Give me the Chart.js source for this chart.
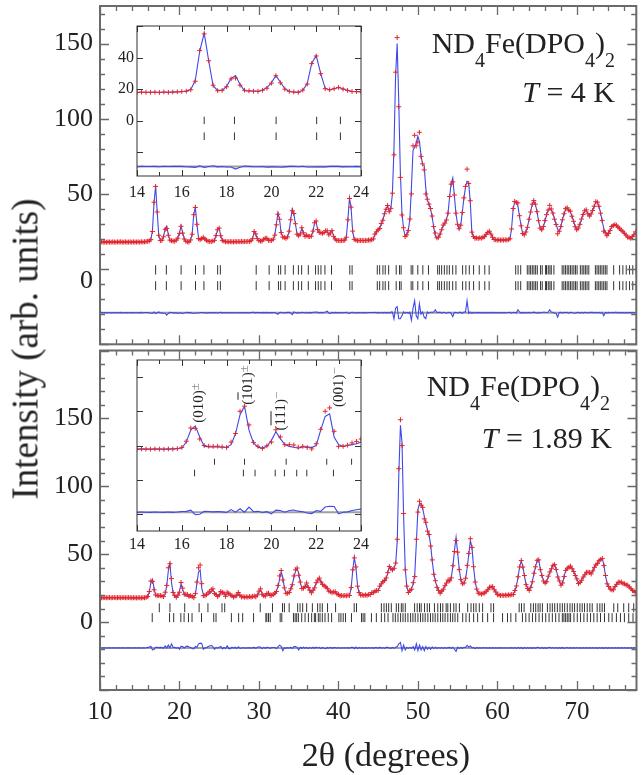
<!DOCTYPE html>
<html>
<head>
<meta charset="utf-8">
<script src="https://cdn.jsdelivr.net/npm/chart.js@4.4.1/dist/chart.umd.min.js"></script>
<style>
  body { margin: 0; background: #fff; }
  #wrap { position: relative; width: 642px; height: 775px; overflow: hidden;
          font-family: "Liberation Serif", "Times New Roman", serif; color: #222; }
  canvas { position: absolute; }
  .lbl { position: absolute; white-space: nowrap; }
  .sb { font-size: 20px; vertical-align: -14px; line-height: 0; }
  .rot { position: absolute; white-space: nowrap; font-size: 15px; line-height: 15px;
         transform: translate(-50%, -50%) rotate(-90deg); }
  .ob { text-decoration: overline; }
  .mk { color: #888; font-size: 13px; vertical-align: 4px; }
</style>
</head>
<body>
<div id="wrap">
  <canvas id="cTop" width="642" height="350" style="left:0;top:0"></canvas>
  <canvas id="cBot" width="642" height="430" style="left:0;top:345px"></canvas>
  <canvas id="cIn1" width="270" height="190" style="left:100px;top:20px"></canvas>
  <canvas id="cIn2" width="270" height="200" style="left:100px;top:354px"></canvas>

  <div class="lbl" style="left:25px;top:349px;font-size:37px;line-height:37px;transform:translate(-50%,-50%) rotate(-90deg)">Intensity (arb. units)</div>
  <div class="lbl" style="left:386px;top:755px;font-size:34px;line-height:34px;transform:translate(-50%,-50%)">2θ (degrees)</div>

  <div class="lbl" style="right:27px;top:28px;font-size:30px;line-height:30px">ND<span class="sb">4</span>Fe(DPO<span class="sb">4</span>)<span class="sb">2</span></div>
  <div class="lbl" style="right:27px;top:77px;font-size:30px;line-height:30px"><i>T</i> = 4 K</div>
  <div class="lbl" style="right:32px;top:371px;font-size:30px;line-height:30px">ND<span class="sb">4</span>Fe(DPO<span class="sb">4</span>)<span class="sb">2</span></div>
  <div class="lbl" style="right:30px;top:423px;font-size:30px;line-height:30px"><i>T</i> = 1.89 K</div>

  <div class="rot" style="left:196px;top:403px">(010)<span class="mk">±</span></div>
  <div class="rot" style="left:245px;top:385px">(<span class="ob">1</span>01)<span class="mk">±</span></div>
  <div class="rot" style="left:278px;top:411px">(<span class="ob">1</span><span class="ob">1</span>1)<span class="mk">−</span></div>
  <div class="rot" style="left:336px;top:387px">(001)<span class="mk">−</span></div>
</div>

<script>
// 2θ grid of the scan: 10.0 ... 77.4 deg, step 0.2
const thetaStart = 10;
const thetaStep = 0.2;

// T = 4 K, observed and calculated intensities (one row = 2 deg)
const topObs = [
  17.8,18.1,17.9,18,17.9,18.1,18,17.9,18.1,18,
  17.9,18.1,18,18.2,17.9,18,18.1,17.9,18,18.1,
  17.9,18.1,18,18,18.1,17.9,18.2,18,18.2,18.3,
  18.5,18.7,19.6,25,44.5,55,38,22.5,19,19.2,
  21.5,26.5,27,22.5,19.3,18.9,18.7,18.6,19.3,20.6,
  23.8,28.5,24,20,18.6,18.2,18,19.4,23.2,36.2,
  41,29.8,20.3,19.6,20.3,21.1,20,19.2,18.5,18.5,
  18.3,18.7,19.1,22.3,26.2,27.3,22.2,19.1,18.6,18.2,
  18.3,18.1,18.3,18.2,18.1,18.3,18.2,18.3,18.2,18.4,
  18.2,18.4,18.3,18.5,18.4,18.9,20.2,25,23.4,20.3,
  18.9,18.7,18.7,19.8,20.5,20.5,19.2,19.1,19.1,19.9,
  22.6,29.5,36.5,33.2,24.3,21.3,21.1,20.5,21.4,25.2,
  32.8,38.8,37,30.2,23.2,22.2,23.3,27.5,24.2,21.8,
  22.6,21.8,21.7,21.9,25.3,30.8,32,26.3,24.4,24.2,
  23.8,24.3,25.5,25.5,22.8,24,25.6,21.8,20,19.1,
  19.1,18.9,19.1,19,19.3,21.2,32.8,47,41.2,25.3,
  19.8,19.4,18.9,19.1,19,19.1,18.9,19.1,19,19.3,
  19.3,19.6,20.1,23.3,24.8,26.2,27,30.3,32.5,36.8,
  39.8,42.3,38.2,40.4,50.5,76,131,154,108,61,
  36,27.5,21.7,22.8,25.6,33.3,50,82,89,82,
  84.5,91,75,70,66,50,46.5,43.2,40.3,35.3,
  28.3,24,20.8,21.2,23.4,26.2,29.3,30.6,32.7,37.2,
  48.3,56.5,58,49.3,37.2,29.8,26.9,29.2,37.6,47.4,
  55,66.5,57,45.5,24.6,21.7,20.5,20.7,20.4,20.8,
  20.6,21.2,21.6,23.2,24.3,25.2,23.3,21.2,19.7,19.6,
  19.3,19.5,19.3,19.5,19.3,19.5,19.4,19.6,20.2,26.7,
  40.3,45,44.3,44,35.5,28.8,23.7,22.8,24.7,27.8,
  33.2,38,43.2,45.6,43.2,38.2,32.2,27.3,26.2,28.3,
  32.3,36.2,39.3,42.4,40,37.3,33.2,29.7,23.5,25.2,
  28.3,32.8,36.8,40.2,40.8,39.2,38.5,35.2,31.8,28.2,
  26.2,27.3,29.8,33.3,36.3,38.8,39.4,36.8,35.3,36.7,
  39,41.8,44.8,44.5,41.8,37.2,32.3,25.2,24.2,22.2,
  23.7,25.8,28.3,29,29.6,29.2,27.8,27.2,25.8,25.2,
  23.8,22.7,21.3,21,20.5,21.7,22.8,24.8
];
const topCalc = [
  17.9,17.9,17.9,17.9,18,18,18,18,18,18,
  18,18,18,18,18,18,18,18,18,18,
  18,18,18,18,18,18,18,18,18.1,18.2,
  18.4,18.8,19.8,25.5,44,55.5,38,22,19.2,19.2,
  21.8,26.8,28.6,23,19,18.8,18.8,18.7,19.3,21,
  24,28.6,24.5,20.2,18.5,18,18.1,19.2,23.5,36.5,
  41.2,30,20.5,19.5,20.2,21,20.2,19.2,18.6,18.4,
  18.4,18.6,19.2,22,26.5,27.2,22,19.2,18.5,18.3,
  18.2,18.2,18.2,18.2,18.2,18.2,18.2,18.2,18.3,18.3,
  18.3,18.3,18.4,18.4,18.5,18.8,20,24.8,23.5,20,
  19,18.6,18.8,19.6,20.6,20.3,19.3,19,19.2,19.8,
  22.5,30,37.5,33,24,21.5,21,20.6,21.2,25,
  33,40,36.5,30,23.5,22,23.5,27.2,24,22,
  22.4,22,21.5,22,25,30.5,31.6,26,24.5,24,
  24,24,25,24.5,23,24.5,25.4,22,19.8,19.2,
  19,19,19,19,19.2,21,33,47.4,41,25,
  20,19.3,19,19,19,19,19,19,19,19.2,
  19.2,19.5,20,23,25,26,27.2,30,32.7,36.5,
  40,42,38.5,40,50,80,128,150,112,65,
  38,27,22,22.5,26,33,55,79,81,84,
  88.5,85,76,69.5,69,54,46,43.5,40,35,
  28,22,20.6,21,23,26.5,29,30.5,33,37,
  48,57,60.6,49,37,30,26.7,29,38,47,
  54.5,58.5,57.5,45,25,21.5,20.7,20.5,20.5,20.6,
  20.8,21,21.8,23,24.5,25,23.5,21,19.8,19.5,
  19.4,19.4,19.4,19.4,19.4,19.4,19.4,19.5,20,27,
  40,44.8,44.5,42,35,29,23.5,23,24.5,28,
  33,38.2,43,45.2,43,38.5,32,27.5,26,28,
  32,36,39,40.4,39.5,37,33.5,30,26.5,25,
  28,33,36.5,40,40.5,39.5,38.2,35,32,28.5,
  26,27,30,33,36.5,38.5,39.2,37,35,36.5,
  38.8,42,44.5,44.6,41.5,37.5,32,27.2,24,22.4,
  23.5,26,28,29.2,29.4,29,28,27,26,25,
  24,22.5,21.5,20.8,20.6,21.5,23,24.5
];

// T = 1.89 K, observed and calculated intensities
const botObs = [
  18.1,17.9,18,18.1,17.9,18,18.1,17.9,18,18.1,
  17.9,18,18.1,17.9,18,18.1,17.9,18,18.1,18,
  17.8,18,17.9,17.8,18,17.9,17.8,18,17.9,18.2,
  18.9,22.5,30.2,30,23.8,20,19.6,19.5,19.6,19.2,
  18.8,22,27,40,43,32,21.8,19.5,18.3,19.8,
  22,29.2,25,20.5,20.5,20.3,19,19.5,18.8,18,
  21,29.5,40,42,28.3,19.5,19.5,20.2,21.5,22.4,
  23.8,24.5,21,20.3,18.8,20,22.5,21.8,21.3,19,
  22,21,20,19.5,18.4,19.3,19.5,21.8,19.8,18.5,
  18.8,18.3,18.6,18.4,18.8,18.4,18.9,19.2,18.6,20,
  22.8,24.5,20.5,19.4,19.2,21,21.3,19.6,19.8,20.3,
  21.3,22.5,27,34,38,31,25.2,21.2,21.3,21.8,
  24.5,27.5,34,38.5,39.8,34.5,29.5,24.7,25,26.2,
  28.8,25.5,23.4,21.6,23.5,25.2,29,31,32.4,29.5,
  27.8,26.7,26,24.8,22.8,22.4,21.7,22.2,22.3,20.8,
  20.3,19.3,19.6,19.4,19.6,19.4,19.8,19.6,25.4,38.5,
  47.3,40.6,26.5,21.8,19.8,20,19.6,20,19.7,20.3,
  20.3,21.8,21.7,22.8,23.2,23.3,26.5,28.2,29.8,30.6,
  32.5,36.4,41,39.2,38.5,39.6,43.5,61,113,149,
  130,80,38.5,26.5,21.8,23.4,24.2,29,33.5,61,
  81,89,86,84.5,76,73.5,67,64.5,56,45.8,
  35.2,30.5,25.6,23.3,21.3,22.8,24.2,26.8,28.8,31,
  30.4,32.6,41.5,52,60,51.5,38.6,31.3,28.2,28.8,
  32.3,41.8,50.6,61.4,55,40.8,29.5,24.3,21.3,21.2,
  20.6,21.3,21.4,22.7,23.8,25.7,25.8,26.1,23.8,22.2,
  20.3,20,19.6,19.8,19.6,19.9,19.7,20,19.9,20.4,
  20.3,23.3,26.6,33.4,40.6,45.3,40.5,34.3,27.6,24.7,
  23.3,25.7,29.7,36,40.7,45.5,45.8,38.6,34.3,30.2,
  28.8,29.7,33.8,36.9,39.3,41.8,42.3,38.8,33.2,30.3,
  27.2,28.8,33.6,38.1,39.7,40.3,41.2,39.3,37.2,34.3,
  31.8,28.4,29.2,30.8,33.2,34.8,36.7,36.7,36.5,35.5,
  37.7,40.3,42.2,43.2,45.3,46.1,46.9,41.7,34.3,28.2,
  26.2,24.3,23.7,23.8,26.2,27.8,29.4,29.3,29.4,28.3,
  28.2,27.3,27.2,25.8,24.7,23.3,22.7,21.8
];
const botCalc = [
  18,18,18,18,18,18,18,18,18,18,
  18,18,18,18,18,18,18,18,18,18,
  17.9,17.9,17.9,17.9,17.9,17.9,17.9,17.9,18,18.1,
  18.5,22,29,31.5,25,19.5,19.2,19.3,19.2,19,
  19,20.5,27,38,43,29,21.5,19,18.5,19.5,
  23,28,24,20.5,19.5,19,18.4,19.2,19.3,18.8,
  20,29,37,38.5,25,20.5,19.5,20,20.5,21,
  22,23.5,22,20,19,19.5,21.5,22.5,21,19.5,
  20.5,21.5,20.5,19,18.6,18.8,20,21,20,18.8,
  18.5,18.5,18.5,18.5,18.6,18.6,18.7,18.8,19,19.5,
  22,24,21,19,19.5,20.5,21,20,19.5,20,
  21,23,26,32,36.9,33,25,21.5,21,22,
  24,28,33,37.5,39.4,36,29,25,24.5,26.5,
  28.4,26,23,22,23,25.5,28.5,31,32,30,
  27.5,27,26.5,24.5,23,22,22,22,22,21,
  20,19.5,19.5,19.5,19.5,19.5,19.6,19.8,25,38,
  47.9,40,27,21.5,20,19.8,19.8,19.8,19.9,20,
  20.5,21.5,22,22.5,23,23.5,26,28.4,29.5,31,
  32,36,41,39.5,38.1,40,43,60,110,145,
  132,78,40,26,22.2,23,24.5,28,35,58,
  83,87,87.5,83.5,78,72.5,68,64,57,45,
  35.7,30,26,23,21.5,22.5,24.5,26.5,29,30.8,
  30,33,41,53,62.5,51,39,31,28.5,28.4,
  32,40,50,60,55,40.5,30,24,21.5,21,
  20.8,21,21.5,22.5,24,25.5,26,25.9,24,22,
  20.5,19.8,19.7,19.7,19.7,19.8,19.8,19.9,20,20.2,
  20.5,23,27,33,41,45,41,34,28,24.5,
  23.5,25.5,30,35.7,41,45,45.5,39,34,30.5,
  28.6,30,33.5,36.5,39.5,41.5,42.5,38.5,33.5,30,
  27.5,28.5,34,38,39.5,40.5,41,39.5,37,34.5,
  31.5,28.6,29,31,33,35,36.5,36.9,36.3,35.7,
  37.5,40.5,42,43.5,45,46.3,46.7,42,34,28.5,
  26,24.5,23.5,24,26,28,29.2,29.5,29.2,28.5,
  28,27.5,27,26,24.5,23.5,22.5,22
];

// Bragg reflection positions (2θ); at 4 K both phases share the same set
const topBragg = [
  17.0,18.35,20.21,22.02,23.08,24.81,25.15,29.66,31.29,32.46,32.74,33.3,34.34,34.97,35.38,
  36.22,37.13,37.47,37.81,38.31,39.14,41.44,41.73,44.9,45.2,45.61,45.9,46.33,47.28,47.7,
  47.9,49.16,49.37,50.0,50.63,51.34,52.5,52.72,53.0,53.34,53.67,53.97,54.39,54.8,55.64,
  56.05,56.48,57.02,57.73,58.43,58.98,62.32,62.62,62.95,63.78,64.0,64.2,64.41,64.62,64.83,
  65.04,65.45,65.66,66.08,66.2,66.42,66.63,66.8,67.13,68.17,68.38,68.58,68.8,69.0,69.21,
  69.42,69.64,69.84,70.05,70.46,70.68,70.89,71.09,71.3,71.52,72.35,72.56,72.77,72.97,73.18,
  73.4,73.6,73.81,74.65,75.4,75.81,76.23,76.65,77.06,77.48
];
const botBraggNuc = [
  17.46,18.8,20.66,22.47,23.58,25.35,25.69,30.16,31.7,32.96,33.2,33.8,34.87,35.17,35.5,
  36.0,36.72,37.38,37.68,37.97,38.63,39.64,41.98,42.27,45.4,45.73,46.03,46.32,46.65,47.28,
  47.57,47.91,48.12,48.41,49.58,49.91,50.2,50.41,50.83,51.17,51.46,52.08,52.5,52.84,53.13,
  53.55,53.76,54.09,54.51,54.8,55.22,56.26,56.68,57.01,57.31,57.72,58.14,59.19,59.52,62.74,
  63.03,63.36,64.2,64.53,64.82,65.12,65.37,65.66,66.29,66.62,66.91,67.21,67.54,67.87,68.17,
  68.46,68.79,69.13,69.42,69.71,70.05,70.38,70.67,70.96,71.3,71.63,71.93,72.55,72.89,73.18,
  73.47,74.64,75.14,75.89,76.52,77.15
];
const botBraggMag = [
  16.57,18.75,19.27,20.17,20.58,21.13,21.58,22.77,24.31,24.6,26.53,27.44,27.95,29.32,30.87,
  30.99,31.2,31.42,32.67,32.87,34.34,34.55,34.75,34.96,35.38,35.8,36.22,36.63,36.97,37.13,
  37.47,37.68,37.97,38.31,38.72,39.14,40.06,40.31,40.6,40.89,41.64,42.9,43.1,43.32,44.15,
  44.77,45.4,45.82,46.24,46.86,47.16,47.49,47.82,48.12,48.41,48.74,49.08,49.37,49.66,50.0,
  50.33,50.62,50.91,51.25,51.58,51.88,52.17,52.5,52.84,53.13,53.42,53.76,54.09,54.38,54.67,
  55.01,55.63,56.05,56.47,57.01,57.51,58.14,58.77,59.52,60.65,61.27,61.69,62.32,63.15,63.57,
  63.99,64.41,64.82,65.24,65.66,66.08,66.5,66.91,67.33,67.75,68.17,68.37,68.58,68.79,69.0,
  69.21,69.63,70.05,70.46,70.88,71.3,71.72,72.13,72.55,72.97,73.47,74.01,74.43,74.97,75.48,
  75.98,76.52,77.06,77.48
];

// vertical offsets used on the plot
const topDiffOffset = -29;
const botDiffOffset = -19;
const mainYLabels = [0, 50, 100, 150];
const insetYLabels = [0, 20, 40];

const RED = '#e3262b';
const BLUE = '#3d48ea';

Chart.defaults.font.family = '"Liberation Serif", "Times New Roman", serif';
Chart.defaults.color = '#222';

function thetaAt(i) {
  return Math.round((thetaStart + i * thetaStep) * 10) / 10;
}

function buildSets(obs, calc, diffOff, rows, cross) {
  const sets = [
    { data: obs.map((v, i) => ({ x: thetaAt(i), y: v })), showLine: false,
      pointStyle: 'cross', pointRadius: cross, borderColor: RED, borderWidth: 1 },
    { data: calc.map((v, i) => ({ x: thetaAt(i), y: v })), showLine: true,
      pointRadius: 0, borderColor: BLUE, borderWidth: 1.1 },
    { data: obs.map((v, i) => ({ x: thetaAt(i), y: v - calc[i] + diffOff })), showLine: true,
      pointRadius: 0, borderColor: BLUE, borderWidth: 1.1 },
    { data: [{ x: 10, y: diffOff }, { x: 77.5, y: diffOff }], showLine: true,
      pointRadius: 0, borderColor: '#a0a0a0', borderWidth: 2 }
  ];
  rows.forEach(function (r) {
    sets.push({ data: r.pos.map(t => ({ x: t, y: r.y })), showLine: false,
      pointStyle: 'line', rotation: 90, pointRadius: r.half, borderColor: '#333', borderWidth: 1 });
  });
  return sets;
}

// frame with inward tick marks on all four sides
const framePlugin = {
  id: 'frame',
  beforeDraw(chart, args, o) {
    if (!o.fill) return;
    const a = chart.chartArea;
    chart.ctx.save();
    chart.ctx.fillStyle = o.fill;
    chart.ctx.fillRect(a.left, a.top, a.right - a.left, a.bottom - a.top);
    chart.ctx.restore();
  },
  afterDraw(chart, args, o) {
    const ctx = chart.ctx;
    const a = chart.chartArea;
    const x = chart.scales.x;
    const y = chart.scales.y;
    const isMajor = (v, m) => Math.abs(v / m - Math.round(v / m)) < 1e-6;
    ctx.save();
    ctx.strokeStyle = o.color;
    ctx.lineWidth = o.tickWidth;
    ctx.beginPath();
    for (let v = Math.ceil(x.min / o.xMinor) * o.xMinor; v <= x.max + 1e-9; v += o.xMinor) {
      const p = Math.round(x.getPixelForValue(v)) + 0.5;
      const L = isMajor(v, o.xMajor) ? o.major : o.minor;
      ctx.moveTo(p, a.bottom); ctx.lineTo(p, a.bottom - L);
      ctx.moveTo(p, a.top); ctx.lineTo(p, a.top + L);
    }
    for (let v = Math.ceil(y.min / o.yMinor) * o.yMinor; v <= y.max + 1e-9; v += o.yMinor) {
      const p = Math.round(y.getPixelForValue(v)) + 0.5;
      const L = isMajor(v, o.yMajor) ? o.major : o.minor;
      ctx.moveTo(a.left, p); ctx.lineTo(a.left + L, p);
      ctx.moveTo(a.right, p); ctx.lineTo(a.right - L, p);
    }
    ctx.stroke();
    ctx.lineWidth = o.width;
    ctx.strokeRect(a.left, a.top, a.right - a.left, a.bottom - a.top);
    ctx.restore();
  }
};

function makeChart(id, cfg) {
  return new Chart(document.getElementById(id), {
    type: 'scatter',
    data: { datasets: cfg.sets },
    options: {
      responsive: false,
      animation: false,
      events: [],
      layout: { padding: cfg.padding },
      plugins: { legend: { display: false }, tooltip: { enabled: false }, frame: cfg.frame },
      scales: {
        x: {
          type: 'linear', min: cfg.xMin, max: cfg.xMax, display: cfg.xShow,
          grid: { display: false, drawTicks: false }, border: { display: false },
          afterFit: function (s) {
            s.height = cfg.xHeight;
            s.paddingLeft = 0; s.paddingRight = 0;
          },
          ticks: {
            stepSize: cfg.xStep, autoSkip: false, maxRotation: 0, padding: cfg.xPad,
            includeBounds: false, font: { size: cfg.xFont },
            callback: v => (cfg.xLabels.includes(v) ? String(v) : '')
          }
        },
        y: {
          type: 'linear', min: cfg.yMin, max: cfg.yMax,
          grid: { display: false, drawTicks: false }, border: { display: false },
          afterFit: function (s) {
            s.width = cfg.yWidth;
            s.paddingTop = 0; s.paddingBottom = 0;
          },
          ticks: {
            stepSize: cfg.yStep, autoSkip: false, padding: cfg.yPad,
            includeBounds: false, font: { size: cfg.yFont, lineHeight: 0.9 },
            callback: function (v) {
              if (!cfg.yLabels.includes(v)) return '';
              // the zero label of the upper panel sits a little lower in the figure
              return (v === 0 && cfg.zeroLow) ? ['', '0'] : String(v);
            }
          }
        }
      }
    },
    plugins: [framePlugin]
  });
}

const mainFrame = { color: '#6a6a6a', width: 2, tickWidth: 1.3, major: 9, minor: 5,
                    xMinor: 2, xMajor: 10, yMinor: 10, yMajor: 50 };

makeChart('cTop', {
  sets: buildSets(topObs, topCalc, topDiffOffset,
    [{ pos: topBragg, y: -0.5, half: 4.7 }, { pos: topBragg, y: -11, half: 4.5 }], 2.5),
  padding: { left: 0, right: 2, top: 6, bottom: 3 },
  frame: mainFrame,
  xMin: 10, xMax: 77.5, xShow: false, xHeight: 0, xStep: 10, xPad: 0, xFont: 25, xLabels: [],
  yMin: -50, yMax: 175, yWidth: 100, yStep: 50, yPad: 7, yFont: 26, yLabels: mainYLabels,
  zeroLow: true
});

makeChart('cBot', {
  sets: buildSets(botObs, botCalc, botDiffOffset,
    [{ pos: botBraggNuc, y: 10.6, half: 4.5 }, { pos: botBraggMag, y: 3.3, half: 4.5 }], 2.5),
  padding: { left: 0, right: 2, top: 3, bottom: 0 },
  frame: mainFrame,
  xMin: 10, xMax: 77.5, xShow: true, xHeight: 85, xStep: 10, xPad: 7, xFont: 25,
  xLabels: [10, 20, 30, 40, 50, 60, 70],
  yMin: -50, yMax: 200, yWidth: 100, yStep: 50, yPad: 7, yFont: 26, yLabels: mainYLabels
});

const insetFrame = { color: '#333', width: 1, tickWidth: 1, major: 6, minor: 4, fill: '#fff',
                     xMinor: 1, xMajor: 2, yMinor: 20, yMajor: 20 };

makeChart('cIn1', {
  sets: buildSets(topObs, topCalc, topDiffOffset,
    [{ pos: topBragg, y: 0.2, half: 3.7 }, { pos: topBragg, y: -9.8, half: 3.8 }], 2.4),
  padding: { left: 0, right: 9, top: 6, bottom: 0 },
  frame: insetFrame,
  xMin: 14, xMax: 24, xShow: true, xHeight: 34, xStep: 2, xPad: 7, xFont: 16,
  xLabels: [14, 16, 18, 20, 22, 24],
  yMin: -35, yMax: 60, yWidth: 37, yStep: 20, yPad: 3, yFont: 16, yLabels: insetYLabels
});

makeChart('cIn2', {
  sets: buildSets(botObs, botCalc, botDiffOffset,
    [{ pos: botBraggNuc, y: 10.5, half: 3 }, { pos: botBraggMag, y: 3.9, half: 3.3 }], 2.4),
  padding: { left: 0, right: 9, top: 6, bottom: 0 },
  frame: insetFrame,
  xMin: 14, xMax: 24, xShow: true, xHeight: 23, xStep: 2, xPad: 4, xFont: 16,
  xLabels: [14, 16, 18, 20, 22, 24],
  yMin: -30, yMax: 70, yWidth: 37, yStep: 20, yPad: 3, yFont: 16, yLabels: insetYLabels
});
</script>
</body>
</html>
